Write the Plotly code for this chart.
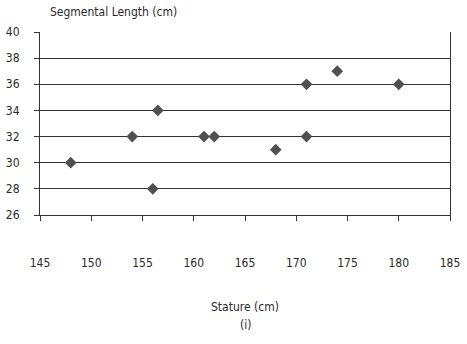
import plotly.graph_objects as go

# Stature (cm) vs segmental length (cm)
stature = [148, 154, 156, 156.5, 161, 162, 168, 171, 171, 174, 180]
segmental_length = [30, 32, 28, 34, 32, 32, 31, 36, 32, 37, 36]

x_ticks = [145, 150, 155, 160, 165, 170, 175, 180, 185]
y_ticks = [26, 28, 30, 32, 34, 36, 38, 40]

FONT = "DejaVu Sans Condensed, Liberation Sans Narrow, Arial Narrow, sans-serif"
TEXT_COLOR = "#2a2a2a"

fig = go.Figure(
    go.Scatter(
        x=stature,
        y=segmental_length,
        mode="markers",
        marker=dict(symbol="diamond", size=9, color="#505050",
                    line=dict(width=0)),
        showlegend=False,
    )
)

fig.update_xaxes(
    range=[145, 185],
    tickvals=x_ticks,
    ticktext=[str(v) for v in x_ticks],
    showgrid=False,
    zeroline=False,
    showline=True,
    linecolor="#333333",
    linewidth=1,
    ticks="outside",
    ticklen=5,
    tickcolor="#333333",
    ticklabelstandoff=32,
    automargin=False,
    tickfont=dict(family=FONT, size=12, color=TEXT_COLOR),
)

fig.update_yaxes(
    range=[26, 40],
    tickvals=y_ticks,
    ticktext=[str(v) for v in y_ticks],
    showgrid=True,
    gridcolor="#333333",
    gridwidth=1,
    zeroline=False,
    showline=True,
    mirror=True,
    linecolor="#333333",
    linewidth=1,
    ticks="outside",
    ticklen=5,
    tickcolor="#333333",
    ticklabelstandoff=12,
    automargin=False,
    tickfont=dict(family=FONT, size=12, color=TEXT_COLOR),
)

fig.add_annotation(text="Segmental Length (cm)", xref="paper", yref="paper",
                   x=0.02, y=1.0, yshift=20, xanchor="left", yanchor="middle",
                   showarrow=False, font=dict(family=FONT, size=12, color=TEXT_COLOR))
fig.add_annotation(text="Stature (cm)", xref="paper", yref="paper",
                   x=0.5, y=0, yshift=-92, xanchor="center", yanchor="middle",
                   showarrow=False, font=dict(family=FONT, size=12, color=TEXT_COLOR))
fig.add_annotation(text="(i)", xref="paper", yref="paper",
                   x=0.5, y=0, yshift=-110, xanchor="center", yanchor="middle",
                   showarrow=False, font=dict(family=FONT, size=12, color=TEXT_COLOR))

fig.update_layout(
    width=467,
    height=344,
    margin=dict(l=40, r=17, t=32, b=129),
    paper_bgcolor="white",
    plot_bgcolor="white",
)

fig.write_html("out.html")
